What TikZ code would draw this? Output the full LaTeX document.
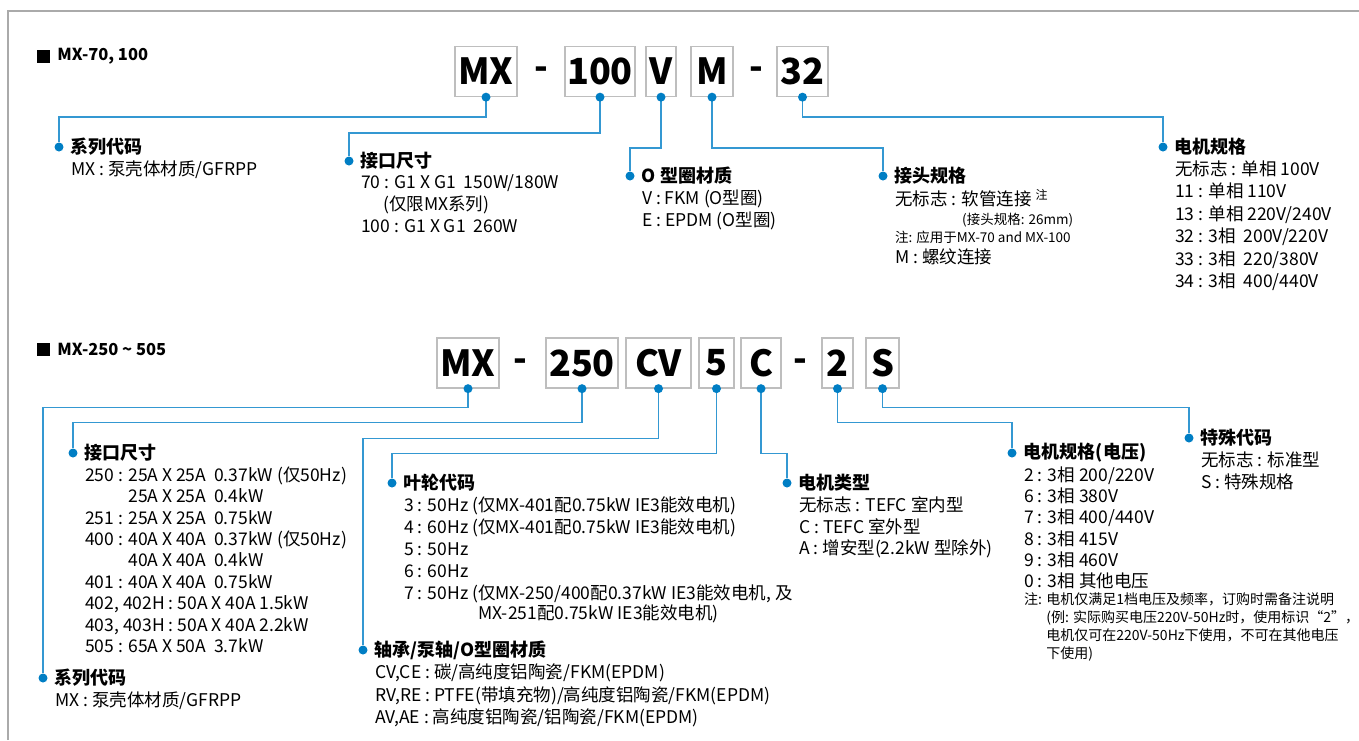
\documentclass[tikz,border=0pt]{standalone}
\usepackage{fontspec}
\setmainfont{Noto Sans CJK SC}
\usetikzlibrary{positioning}
\definecolor{dotblue}{RGB}{0,126,196}
\definecolor{lineblue}{RGB}{52,152,210}
\definecolor{boxgray}{RGB}{190,190,190}
\definecolor{framegray}{RGB}{170,170,170}
\tikzset{
    codebox/.style={rectangle, draw=boxgray, line width=1.3pt, minimum height=50pt, inner sep=0pt, font=\fontsize{36}{36}\selectfont\bfseries},
    dashsign/.style={inner sep=0pt, font=\fontsize{36}{36}\selectfont\bfseries},
    bluedot/.style={circle, fill=dotblue, inner sep=0pt, minimum size=9pt},
    conn/.style={draw=lineblue, line width=1.4pt},
    titlesq/.style={fill=black, minimum size=13pt, inner sep=0pt},
    title/.style={inner sep=0pt, anchor=west, font=\fontsize{16.5}{20}\selectfont\bfseries},
    hdr/.style={inner sep=0pt, anchor=west, font=\fontsize{18}{20}\selectfont\bfseries},
    body/.style={inner sep=0pt, anchor=north west, align=left, font=\fontsize{17.5}{22}\selectfont},
    smallnote/.style={inner sep=0pt, anchor=north west, align=left, font=\fontsize{14}{18}\selectfont},
}
\begin{document}
\begin{tikzpicture}[x=1pt,y=-1pt]
\useasboundingbox (0,0) rectangle (1359,740);
% page frame
\draw[framegray, line width=2pt] (8,740) -- (8,11) -- (1359,11);

% ===== MX-70, 100 =====
\node[titlesq] (sqA) at (43.5,56.5) {};
\node[title, right=7pt of sqA] (titleA) {MX-70, 100};

% Code boxes
\node[codebox, minimum width=62pt] (codeMXa) at (486,71.5) {MX};
\node[dashsign] (dashA1) at (541,73) {-};
\node[codebox, minimum width=70pt] (code100) at (600,71.5) {100};
\node[codebox, minimum width=30pt] (codeV) at (661,71.5) {V};
\node[codebox, minimum width=42pt] (codeM) at (712,71.5) {M};
\node[dashsign] (dashA2) at (756,73) {-};
\node[codebox, minimum width=51pt] (code32) at (802.5,71.5) {32};

% Series code
\node[bluedot] (serA) at (59,147) {};
\node[hdr, right=7pt of serA] (serAhd) {系列代码};
\node[body] (serAtx) at ([shift={(12,13.5)}]serA.center) {MX : 泵壳体材质/GFRPP};

% Port size
\node[bluedot] (portA) at (349,161) {};
\node[hdr, right=7pt of portA] (portAhd) {接口尺寸};
\node[body] (portAtx) at ([shift={(12,13.5)}]portA.center) {70 : G1 X G1\ \ 150W/180W\\\hspace*{22pt}(仅限MX系列)\\100 : G1 X G1\ \ 260W};

% O-ring material
\node[bluedot] (ringA) at (630,176) {};
\node[hdr, right=7pt of ringA] (ringAhd) {O 型圈材质};
\node[body] (ringAtx) at ([shift={(12,13.5)}]ringA.center) {V : FKM (O型圈)\\E : EPDM (O型圈)};

% Joint spec
\node[bluedot] (jointA) at (883,176) {};
\node[hdr, right=7pt of jointA] (jointAhd) {接头规格};
\node[body] (jointAtx) at ([shift={(12,13.5)}]jointA.center) {无标志 : 软管连接 \raisebox{6pt}{\fontsize{12}{12}\selectfont 注}};
\node[smallnote, font=\fontsize{13.5}{18}\selectfont] (jointAnote) at ([shift={(12,36.5)}]jointA.center) {\hspace*{67pt}(接头规格: 26mm)\\注: 应用于MX-70 and MX-100};
\node[body] (jointAtx2) at ([shift={(12,72.4)}]jointA.center) {M : 螺纹连接};

% Motor spec
\node[bluedot] (motorA) at (1163,147) {};
\node[hdr, right=7pt of motorA] (motorAhd) {电机规格};
\node[body, font=\fontsize{17.5}{22.4}\selectfont] (motorAtx) at ([shift={(12,13.5)}]motorA.center) {无标志 : 单相 100V\\11 : 单相 110V\\13 : 单相 220V/240V\\32 : 3相\ \ 200V/220V\\33 : 3相\ \ 220/380V\\34 : 3相\ \ 400/440V};

% Connectors
\draw[conn] (codeMXa.south) -- ++(0,20) -| (serA);
\draw[conn] (code100.south) -- ++(0,36) -| (portA);
\draw[conn] (codeV.south) -- ++(0,51) -| (ringA);
\draw[conn] (codeM.south) -- ++(0,51) -| (jointA);
\draw[conn] (code32.south) -- ++(0,20) -| (motorA);

% ===== MX-250 ~ 505 =====
\node[titlesq] (sqB) at (43.5,349) {};
\node[title, right=7pt of sqB] (titleB) {MX-250 \textasciitilde{} 505};

% Code boxes
\node[codebox, minimum width=62pt] (codeMXb) at (468,363) {MX};
\node[dashsign] (dashB1) at (520,365) {-};
\node[codebox, minimum width=72pt] (code250) at (582,363) {250};
\node[codebox, minimum width=65pt] (codeCV) at (658.5,363) {CV};
\node[codebox, minimum width=35pt] (code5) at (716.5,363) {5};
\node[codebox, minimum width=40pt] (codeC) at (761,363) {C};
\node[dashsign] (dashB2) at (800,365) {-};
\node[codebox, minimum width=31pt] (code2) at (837.5,363) {2};
\node[codebox, minimum width=33pt] (codeS) at (882.5,363) {S};

% Port size
\node[bluedot] (portB) at (73,453) {};
\node[hdr, right=7pt of portB] (portBhd) {接口尺寸};
\node[body, font=\fontsize{17.5}{21.4}\selectfont] (portBtx) at ([shift={(12,13.5)}]portB.center) {250 : 25A X 25A\ \ 0.37kW (仅50Hz)\\\phantom{250 : }25A X 25A\ \ 0.4kW\\251 : 25A X 25A\ \ 0.75kW\\400 : 40A X 40A\ \ 0.37kW (仅50Hz)\\\phantom{400 : }40A X 40A\ \ 0.4kW\\401 : 40A X 40A\ \ 0.75kW\\402, 402H : 50A X 40A 1.5kW\\403, 403H : 50A X 40A 2.2kW\\505 : 65A X 50A\ \ 3.7kW};

% Series code
\node[bluedot] (serB) at (43,678) {};
\node[hdr, right=7pt of serB] (serBhd) {系列代码};
\node[body] (serBtx) at ([shift={(12,13.5)}]serB.center) {MX : 泵壳体材质/GFRPP};

% Impeller code
\node[bluedot] (impB) at (392,483) {};
\node[hdr, right=7pt of impB] (impBhd) {叶轮代码};
\node[body] (impBtx) at ([shift={(12,13.5)}]impB.center) {3 : 50Hz (仅MX-401配0.75kW IE3能效电机)\\4 : 60Hz (仅MX-401配0.75kW IE3能效电机)\\5 : 50Hz\\6 : 60Hz\\7 : 50Hz (仅MX-250/400配0.37kW IE3能效电机, 及\\[-2pt]\phantom{7 : 50Hz (}MX-251配0.75kW IE3能效电机)};

% Bearing / shaft / O-ring
\node[bluedot] (bearB) at (363,650) {};
\node[hdr, right=7pt of bearB] (bearBhd) {轴承/泵轴/O型圈材质};
\node[body, font=\fontsize{17.5}{22.5}\selectfont] (bearBtx) at ([shift={(12,13.5)}]bearB.center) {CV,CE : 碳/高纯度铝陶瓷/FKM(EPDM)\\RV,RE : PTFE(带填充物)/高纯度铝陶瓷/FKM(EPDM)\\AV,AE : 高纯度铝陶瓷/铝陶瓷/FKM(EPDM)};

% Motor type
\node[bluedot] (typeB) at (787,483) {};
\node[hdr, right=7pt of typeB] (typeBhd) {电机类型};
\node[body, font=\fontsize{17.5}{21.5}\selectfont] (typeBtx) at ([shift={(12,13.5)}]typeB.center) {无标志 : TEFC 室内型\\C : TEFC 室外型\\A : 增安型(2.2kW 型除外)};

% Motor voltage
\node[bluedot] (voltB) at (1012,453) {};
\node[hdr, right=7pt of voltB] (voltBhd) {电机规格(电压)};
\node[body, font=\fontsize{17.5}{21.2}\selectfont] (voltBtx) at ([shift={(12,13.5)}]voltB.center) {2 : 3相 200/220V\\6 : 3相 380V\\7 : 3相 400/440V\\8 : 3相 415V\\9 : 3相 460V\\0 : 3相 其他电压};
\node[smallnote] (voltBnote) at ([shift={(12,139.4)}]voltB.center) {注: 电机仅满足1档电压及频率，订购时需备注说明\\\phantom{注: }(例: 实际购买电压220V-50Hz时，使用标识“2”，\\\phantom{注: }电机仅可在220V-50Hz下使用，不可在其他电压\\\phantom{注: }下使用)};

% Special code
\node[bluedot] (specB) at (1189,438) {};
\node[hdr, right=7pt of specB] (specBhd) {特殊代码};
\node[body] (specBtx) at ([shift={(12,13.5)}]specB.center) {无标志 : 标准型\\S : 特殊规格};

% Connectors
\draw[conn] (codeMXb.south) -- ++(0,19) -| (serB);
\draw[conn] (code250.south) -- ++(0,34) -| (portB);
\draw[conn] (codeCV.south) -- ++(0,50) -| (bearB);
\draw[conn] (code5.south) -- ++(0,65) -| (impB);
\draw[conn] (codeC.south) -- ++(0,65) -| (typeB);
\draw[conn] (code2.south) -- ++(0,34) -| (voltB);
\draw[conn] (codeS.south) -- ++(0,19) -| (specB);

% Dots on the code boxes
\node[bluedot] (dotMXa) at (codeMXa.south) {};
\node[bluedot] (dot100) at (code100.south) {};
\node[bluedot] (dotV) at (codeV.south) {};
\node[bluedot] (dotM) at (codeM.south) {};
\node[bluedot] (dot32) at (code32.south) {};
\node[bluedot] (dotMXb) at (codeMXb.south) {};
\node[bluedot] (dot250) at (code250.south) {};
\node[bluedot] (dotCV) at (codeCV.south) {};
\node[bluedot] (dot5) at (code5.south) {};
\node[bluedot] (dotC) at (codeC.south) {};
\node[bluedot] (dot2) at (code2.south) {};
\node[bluedot] (dotS) at (codeS.south) {};
\end{tikzpicture}
\end{document}
